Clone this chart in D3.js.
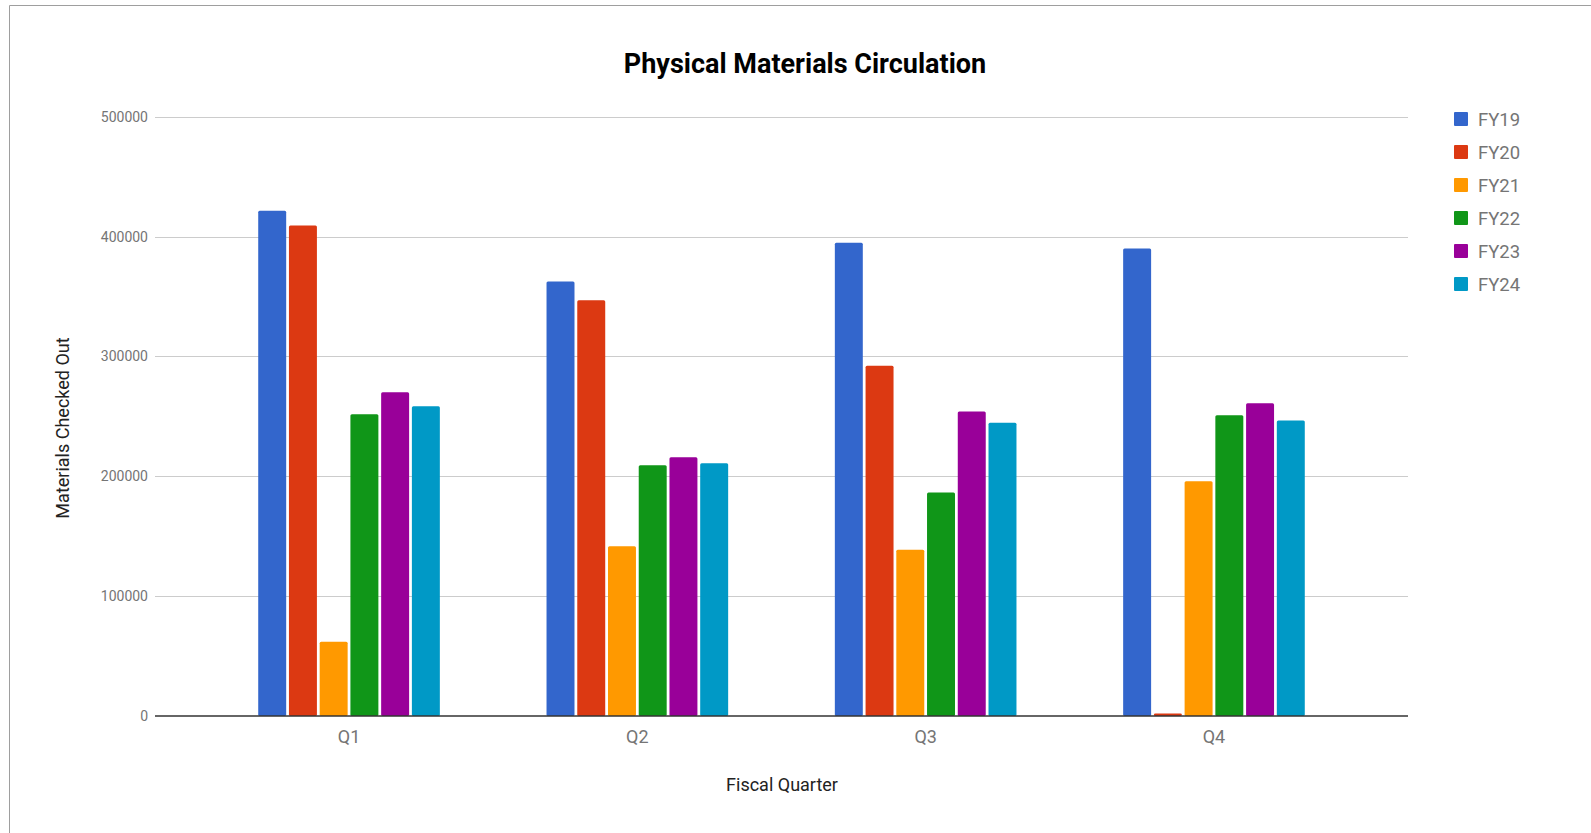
<!DOCTYPE html>
<html>
<head>
<meta charset="utf-8">
<script src="https://cdn.jsdelivr.net/npm/d3@7"></script>
<style>
  html, body { margin: 0; padding: 0; background: #fff; }
  #chart { width: 1591px; height: 833px; }
</style>
</head>
<body>
<div id="chart"></div>
<script>
// data
const quarters = ["Q1", "Q2", "Q3", "Q4"];
const years = ["FY19", "FY20", "FY21", "FY22", "FY23", "FY24"];
const fy19 = [421500, 362500, 394800, 390100];
const fy20 = [409300, 347000, 292200, 2000];
const fy21 = [62000, 141600, 138800, 195900];
const fy22 = [251800, 209200, 186400, 251000];
const fy23 = [270200, 215900, 254000, 261000];
const fy24 = [258500, 210900, 244600, 246500];
const yTicks = [0, 100000, 200000, 300000, 400000, 500000];
const colors = ["#3366cc", "#dc3912", "#ff9900", "#109618", "#990099", "#0099c6"];

const series = [fy19, fy20, fy21, fy22, fy23, fy24];

const width = 1591, height = 833;
const margin = { top: 117, right: 183, bottom: 117, left: 155 };
const font = "Roboto, 'Noto Sans', Arial, sans-serif";

const svg = d3.select("#chart").append("svg")
  .attr("width", width)
  .attr("height", height)
  .style("font-family", font);

// frame (left and top edges show in the crop)
svg.append("path")
  .attr("d", `M9.5,${height} V5.5 H${width}`)
  .attr("fill", "none")
  .attr("stroke", "#9e9e9e")
  .attr("stroke-width", 1);

const x0 = d3.scaleBand()
  .domain(quarters)
  .range([margin.left, width - margin.right])
  .paddingInner(0.37)
  .paddingOuter(0.358);

const x1 = d3.scaleBand()
  .domain(years)
  .range([0, x0.bandwidth()])
  .paddingInner(0.09);

const y = d3.scaleLinear()
  .domain([0, 500000])
  .range([716, 116.8]);

const color = d3.scaleOrdinal().domain(years).range(colors);

// gridlines
svg.append("g")
  .selectAll("line")
  .data(yTicks.filter(d => d > 0))
  .join("line")
  .attr("x1", margin.left)
  .attr("x2", width - margin.right)
  .attr("y1", d => Math.round(y(d)) + 0.5)
  .attr("y2", d => Math.round(y(d)) + 0.5)
  .attr("stroke", "#cccccc")
  .attr("stroke-width", 1);

// y tick labels
svg.append("g")
  .selectAll("text")
  .data(yTicks)
  .join("text")
  .attr("x", 148)
  .attr("y", d => y(d) + 5)
  .attr("text-anchor", "end")
  .attr("font-size", "14px")
  .attr("fill", "#757575")
  .text(d => d);

// bars
const rows = quarters.map((q, i) => ({ q, vals: years.map((yr, j) => ({ yr, v: series[j][i] })) }));

svg.append("g")
  .selectAll("g")
  .data(rows)
  .join("g")
  .attr("transform", d => `translate(${x0(d.q)},0)`)
  .selectAll("rect")
  .data(d => d.vals)
  .join("rect")
  .attr("x", d => x1(d.yr))
  .attr("y", d => y(d.v))
  .attr("width", x1.bandwidth())
  .attr("height", d => y(0) - y(d.v))
  .attr("rx", 1.5)
  .attr("fill", d => color(d.yr));

// baseline
svg.append("line")
  .attr("x1", margin.left)
  .attr("x2", width - margin.right)
  .attr("y1", y(0))
  .attr("y2", y(0))
  .attr("stroke", "#333333")
  .attr("stroke-width", 1.5);

// x labels
svg.append("g")
  .selectAll("text")
  .data(quarters)
  .join("text")
  .attr("x", d => x0(d) + x0.bandwidth() / 2)
  .attr("y", 743)
  .attr("text-anchor", "middle")
  .attr("font-size", "18px")
  .attr("fill", "#757575")
  .text(d => d);

// title
svg.append("text")
  .attr("x", 805)
  .attr("y", 73)
  .attr("text-anchor", "middle")
  .attr("font-size", "27px")
  .attr("font-weight", "bold")
  .attr("fill", "#000")
  .text("Physical Materials Circulation");

// axis titles
svg.append("text")
  .attr("x", 782)
  .attr("y", 791)
  .attr("text-anchor", "middle")
  .attr("font-size", "18px")
  .attr("fill", "#222")
  .text("Fiscal Quarter");

svg.append("text")
  .attr("transform", "translate(69,428) rotate(-90)")
  .attr("text-anchor", "middle")
  .attr("font-size", "18px")
  .attr("fill", "#222")
  .text("Materials Checked Out");

// legend
const legend = svg.append("g")
  .selectAll("g")
  .data(years)
  .join("g")
  .attr("transform", (d, i) => `translate(1454,${112 + i * 33})`);

legend.append("rect")
  .attr("width", 14)
  .attr("height", 14)
  .attr("rx", 1)
  .attr("fill", d => color(d));

legend.append("text")
  .attr("x", 24)
  .attr("y", 13.5)
  .attr("font-size", "18.5px")
  .attr("fill", "#757575")
  .text(d => d);
</script>
</body>
</html>
